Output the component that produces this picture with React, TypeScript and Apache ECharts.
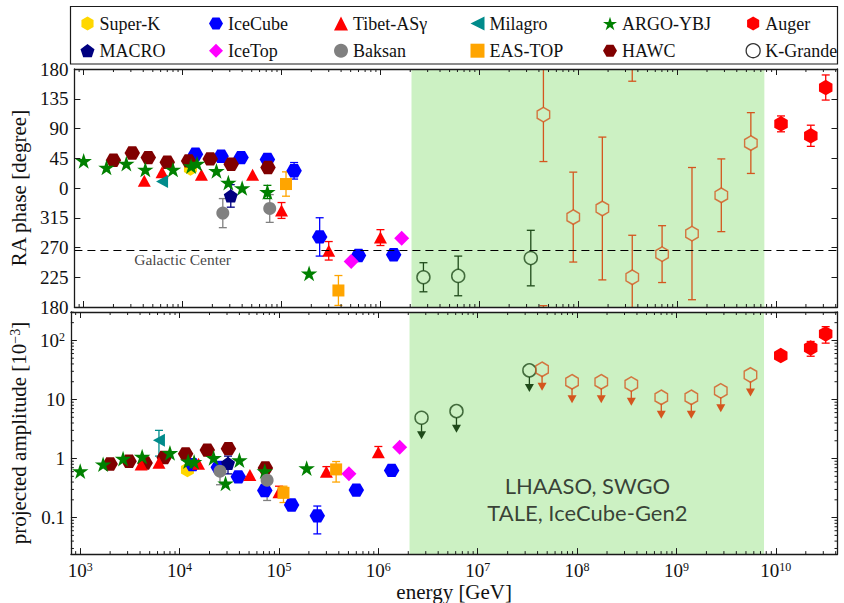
import React, { useEffect, useRef } from 'react';
import * as echarts from 'echarts';

const SERIF = '"Liberation Serif", "DejaVu Serif", serif';
const SANS = 'Lato, "Open Sans", sans-serif';

// ---------- axis extents ----------
const ENERGY_MIN = 806;
const ENERGY_MAX = 4.17e10;
const AMP_MIN = 0.0241;
const AMP_MAX = 303;
const PHASE_MIN = -180;
const PHASE_MAX = 180;
const PHASE_STEP = 45;

// ---------- annotations ----------
const galacticCenterRA = 266.4;
const gcLabelEnergy = 1.0e4;
const bandEnergy = [2.06e6, 7.6e9];
const bandLabelAt = [1.27e8, 0.209];
const bandLabel = 'LHAASO, SWGO\nTALE, IceCube-Gen2';

// ---------- data (energy in GeV, phase in degree, amplitude in 1e-3) ----------
const superkE = [1.2e4];
const superkPhase = [30];
const superkAmp = [0.645];

const macroE = [3.07e4];
const macroPhase = [348];
const macroPhaseErr = [17];
const macroAmp = [0.83];
const macroAmpLo = [0.55];
const macroAmpHi = [1.1];

const icecubeE = [1.35e4, 2.45e4, 3.9e4, 7.2e4, 1.34e5, 2.43e5, 6.0e5, 1.36e6];
const icecubePhase = [51, 48, 46, 43, 26, 286, 258, 259];
const icecubePhaseErr = [0, 0, 0, 0, 12.5, 29, 0, 0];
const icecubeAmp = [0.79, 0.71, 0.49, 0.287, 0.163, 0.107, 0.292, 0.63];
const icecubeAmpLo = [0, 0, 0, 0, 0, 0.053, 0, 0];
const icecubeAmpHi = [0, 0, 0, 0, 0, 0.157, 0, 0];

const icetopE = [5.06e5, 1.64e6];
const icetopPhase = [249, 284];
const icetopAmp = [0.553, 1.55];

const tibetE = [4.1e3, 6.2e3, 1.55e4, 5.1e4, 1.0e5, 3.0e5, 1.0e6];
const tibetPhase = [11, 24, 20, 20, 326, 265, 285];
const tibetPhaseErr = [0, 0, 0, 0, 12, 14, 12];
const tibetAmp = [0.79, 0.85, 0.82, 0.525, 0.27, 0.6, 1.28];
const tibetAmpLo = [0, 0, 0, 0, 0.22, 0.5, 1.1];
const tibetAmpHi = [0, 0, 0, 0, 0.34, 0.73, 1.6];

const baksanE = [2.55e4, 7.6e4];
const baksanPhase = [322, 329];
const baksanPhaseErr = [22, 21];
const baksanAmp = [0.61, 0.43];
const baksanAmpLo = [0.36, 0.195];
const baksanAmpHi = [0.86, 0.6];

const milagroE = [6.2e3];
const milagroPhase = [10];
const milagroAmp = [2.05];
const milagroAmpLo = [1.1];
const milagroAmpHi = [3.0];

const eastopE = [1.11e5, 3.76e5];
const eastopPhase = [6, 205];
const eastopPhaseErr = [18.4, 22.6];
const eastopAmp = [0.263, 0.655];
const eastopAmpLo = [0.18, 0.4];
const eastopAmpHi = [0.34, 0.89];

const argoE = [1.0e3, 1.7e3, 2.7e3, 4.2e3, 8.0e3, 1.22e4, 1.4e4, 2.2e4, 2.9e4, 4.0e4, 7.2e4, 1.9e5];
const argoPhase = [41, 31, 37, 28, 28, 33, 37, 26, 8, 0, 354, 231];
const argoPhaseErr = [0, 0, 0, 0, 0, 0, 0, 0, 0, 0, 10, 0];
const argoAmp = [0.61, 0.8, 1.0, 1.08, 1.25, 0.9, 0.88, 1.03, 0.38, 0.94, 0.61, 0.69];

const hawcE = [2.0e3, 3.1e3, 4.5e3, 7.0e3, 1.15e4, 1.9e4, 3.1e4, 7.3e4];
const hawcPhase = [42, 53, 46, 39, 41, 44, 36, 31];
const hawcAmp = [0.81, 0.9, 0.84, 1.04, 1.2, 1.39, 1.47, 0.69];

const augerE = [1.12e10, 2.24e10, 3.17e10];
const augerPhase = [97, 79, 152];
const augerPhaseErr = [12, 16, 19];
const augerAmp = [55.5, 74.6, 129];
const augerAmpLo = [0, 54, 90];
const augerAmpHi = [0, 96, 171];

const kgrandeE = [2.72e6, 6.11e6, 3.31e7];
const kgrandePhase = [225, 227, 254];
const kgrandePhaseErr = [22, 30, 42];
const kgrandeAmpLimit = [4.9, 6.35, 31.1];

const augerLowE = [4.44e7, 8.89e7, 1.75e8, 3.51e8, 7.03e8, 1.41e9, 2.79e9, 5.55e9];
const augerLowPhase = [111, 316, 329, 225, 260, 291, 349, 68];
const augerLowPhaseErr = [71, 68, 108, 63.5, 43, 100, 55, 46];
const augerLowAmpLimit = [32.4, 19.9, 19.9, 18.2, 10.9, 10.9, 14.0, 26.0];

// ---------- styles ----------
const C = {
  superk: '#ffd700', macro: '#000080', icecube: '#0000ff', icetop: '#ff00ff',
  tibet: '#ff0000', baksan: '#808080', milagro: '#008b8b', eastop: '#ffa500',
  argo: '#008000', hawc: '#800000', auger: '#ff0000', kgrande: '#1f4a1a', augerLow: '#d4561e',
  band: '#ccf1c3', axis: '#1a1a1a',
};
const HEX_P = 'path://M0,-1L0.866,-0.5L0.866,0.5L0,1L-0.866,0.5L-0.866,-0.5Z';
const HEX_F = 'path://M1,0L0.5,0.866L-0.5,0.866L-1,0L-0.5,-0.866L0.5,-0.866Z';
const STAR = 'path://M0,-1L0.2245,-0.309L0.951,-0.309L0.3633,0.118L0.5878,0.809L0,0.382L-0.5878,0.809L-0.3633,0.118L-0.951,-0.309L-0.2245,-0.309Z';
const PENT = 'path://M0,-1L0.951,-0.309L0.588,0.809L-0.588,0.809L-0.951,-0.309Z';
const LTRI = 'path://M-1,0L1,-1L1,1Z';

const wrap = (p: number) => (p > 180 ? p - 360 : p);

function minorValues(lo: number, hi: number) {
  const out: number[] = [];
  for (let n = -3; n <= 11; n++) {
    for (let k = 2; k <= 9; k++) {
      const v = k * Math.pow(10, n);
      if (v > lo && v < hi) out.push(v);
    }
  }
  return out;
}

const axisIdx = (g: number) => (g === 0 ? 0 : 2);

function scatter(E: number[], Y: number[], g: number, symbol: string, size: any, color: string, name?: string, extra: any = {}) {
  return {
    type: 'scatter', name, xAxisIndex: axisIdx(g), yAxisIndex: axisIdx(g),
    data: E.map((e, i) => [e, g === 0 ? wrap(Y[i]) : Y[i]]),
    symbol, symbolSize: size, silent: true, z: 4,
    itemStyle: { color, opacity: 1 },
    ...extra,
  };
}

function errRender(color: string, wrapMode: boolean, gap: number) {
  return (params: any, api: any) => {
    const x = api.value(0), lo = api.value(1), hi = api.value(2), c = api.value(3);
    const Y = (v: number) => api.coord([x, v])[1];
    const px = api.coord([x, c])[0];
    const yc = Y(c);
    const ch: any[] = [];
    const st = { stroke: color, lineWidth: 1.3 };
    const seg = (a: number, b: number) => ch.push({ type: 'line', shape: { x1: px, y1: a, x2: px, y2: b }, style: st });
    const cap = (y: number) => ch.push({ type: 'line', shape: { x1: px - 4, y1: y, x2: px + 4, y2: y }, style: st });
    if (wrapMode && hi > PHASE_MAX) {
      seg(yc - gap, Y(PHASE_MAX)); seg(Y(PHASE_MIN), Y(hi - 360)); cap(Y(hi - 360));
    } else {
      if (yc - gap > Y(hi)) seg(yc - gap, Y(hi));
      cap(Y(hi));
    }
    if (wrapMode && lo < PHASE_MIN) {
      seg(yc + gap, Y(PHASE_MIN)); seg(Y(PHASE_MAX), Y(lo + 360)); cap(Y(lo + 360));
    } else {
      if (yc + gap < Y(lo)) seg(yc + gap, Y(lo));
      cap(Y(lo));
    }
    return { type: 'group', children: ch };
  };
}

function phaseErr(E: number[], P: number[], err: number[], color: string, gap = 0) {
  const data: number[][] = [];
  E.forEach((e, i) => {
    if (err[i]) { const c = wrap(P[i]); data.push([e, c - err[i], c + err[i], c]); }
  });
  return { type: 'custom', xAxisIndex: 0, yAxisIndex: 0, data, renderItem: errRender(color, true, gap), silent: true, z: 3 };
}

function ampErr(E: number[], A: number[], lo: number[], hi: number[], color: string) {
  const data: number[][] = [];
  E.forEach((e, i) => { if (lo[i] && hi[i]) data.push([e, lo[i], hi[i], A[i]]); });
  return { type: 'custom', xAxisIndex: 2, yAxisIndex: 2, data, renderItem: errRender(color, false, 0), silent: true, z: 3 };
}

function limitArrows(E: number[], A: number[], color: string) {
  return {
    type: 'custom', xAxisIndex: 2, yAxisIndex: 2, silent: true, z: 3,
    data: E.map((e, i) => [e, A[i]]),
    renderItem: (params: any, api: any) => {
      const p = api.coord([api.value(0), api.value(1)]);
      return {
        type: 'group', children: [
          { type: 'line', shape: { x1: p[0], y1: p[1] + 6.5, x2: p[0], y2: p[1] + 14 }, style: { stroke: color, lineWidth: 1.3 } },
          { type: 'polygon', shape: { points: [[p[0] - 4.5, p[1] + 13.5], [p[0] + 4.5, p[1] + 13.5], [p[0], p[1] + 21.5]] }, style: { fill: color } },
        ],
      };
    },
  };
}

function xMinorTicks(g: number, yRef: number) {
  return {
    type: 'custom', xAxisIndex: axisIdx(g), yAxisIndex: axisIdx(g), silent: true, z: 6,
    data: minorValues(ENERGY_MIN, ENERGY_MAX).map((v) => [v, yRef]),
    renderItem: (params: any, api: any) => {
      const cs = params.coordSys;
      const px = api.coord([api.value(0), api.value(1)])[0];
      const st = { stroke: C.axis, lineWidth: 1 };
      return {
        type: 'group', children: [
          { type: 'line', shape: { x1: px, y1: cs.y, x2: px, y2: cs.y + 3 }, style: st },
          { type: 'line', shape: { x1: px, y1: cs.y + cs.height, x2: px, y2: cs.y + cs.height - 3 }, style: st },
        ],
      };
    },
  };
}

function yMinorTicks() {
  return {
    type: 'custom', xAxisIndex: 2, yAxisIndex: 2, silent: true, z: 6,
    data: minorValues(AMP_MIN, AMP_MAX).map((v) => [1e4, v]),
    renderItem: (params: any, api: any) => {
      const cs = params.coordSys;
      const py = api.coord([api.value(0), api.value(1)])[1];
      const st = { stroke: C.axis, lineWidth: 1 };
      return {
        type: 'group', children: [
          { type: 'line', shape: { x1: cs.x, y1: py, x2: cs.x + 3, y2: py }, style: st },
          { type: 'line', shape: { x1: cs.x + cs.width, y1: py, x2: cs.x + cs.width - 3, y2: py }, style: st },
        ],
      };
    },
  };
}

const supRich = { sup: { fontSize: 12, fontFamily: SERIF, color: '#111', verticalAlign: 'top', lineHeight: 12 } };

const energyLabel = (v: number) => `10{sup|${Math.round(Math.log10(v))}}`;
const ampLabel = (v: number) => {
  const n = Math.round(Math.log10(v));
  if (n >= 2) return `10{sup|${n}}`;
  return String(Math.pow(10, n));
};
const phaseLabel = (v: number) => String(v < 0 ? v + 360 : v);

export default function App() {
  const ref = useRef<HTMLDivElement>(null);
  useEffect(() => {
    const chart = echarts.init(ref.current!, null, { renderer: 'svg' });
    const axisLine = { show: true, onZero: false, lineStyle: { color: C.axis, width: 1.3 } };
    const tick = { show: true, inside: true, length: 6, lineStyle: { color: C.axis, width: 1 } };
    const xBase: any = {
      type: 'log', logBase: 10, min: ENERGY_MIN, max: ENERGY_MAX, z: 10,
      axisLine, axisTick: tick, axisLabel: { show: false }, splitLine: { show: false },
    };
    const labelStyle = { fontFamily: SERIF, fontSize: 19, color: '#111' };

    const legendCols = [
      [{ name: 'Super-K', icon: HEX_P, itemStyle: { color: C.superk } }, { name: 'MACRO', icon: PENT, itemStyle: { color: C.macro } }],
      [{ name: 'IceCube', icon: HEX_F, itemStyle: { color: C.icecube } }, { name: 'IceTop', icon: 'diamond', itemStyle: { color: C.icetop } }],
      [{ name: 'Tibet-ASγ', icon: 'triangle', itemStyle: { color: C.tibet } }, { name: 'Baksan', icon: 'circle', itemStyle: { color: C.baksan } }],
      [{ name: 'Milagro', icon: LTRI, itemStyle: { color: C.milagro } }, { name: 'EAS-TOP', icon: 'rect', itemStyle: { color: C.eastop } }],
      [{ name: 'ARGO-YBJ', icon: STAR, itemStyle: { color: C.argo } }, { name: 'HAWC', icon: HEX_F, itemStyle: { color: C.hawc } }],
      [{ name: 'Auger', icon: HEX_P, itemStyle: { color: C.auger } }, { name: 'K-Grande', icon: 'circle', itemStyle: { color: '#ffffff', borderColor: '#000', borderWidth: 1.3 } }],
    ];
    const legendLeft = [80.5, 209, 334, 470.5, 603, 745.5];

    const hollow = (color: string) => ({ color: 'rgba(0,0,0,0)', borderColor: color, borderWidth: 1.5 });

    const option: any = {
      animation: false,
      textStyle: { fontFamily: SERIF },
      graphic: [{ type: 'rect', shape: { x: 70.5, y: 6.5, width: 767, height: 57.5 }, style: { fill: 'none', stroke: C.axis, lineWidth: 1.2 }, silent: true }],
      legend: legendCols.map((d, i) => ({
        left: legendLeft[i], top: 14.5, padding: 0, orient: 'vertical', itemWidth: 14, itemHeight: 14, itemGap: 9.2,
        selectedMode: false, textStyle: { fontFamily: SERIF, fontSize: 18, lineHeight: 14, color: '#111' }, data: d,
      })),
      grid: [
        { left: 70, right: 6.5, top: 69, height: 238 },
        { left: 70, right: 6.5, top: 312, height: 245 },
      ],
      xAxis: [
        { ...xBase, gridIndex: 0, position: 'bottom' },
        { ...xBase, gridIndex: 0, position: 'top' },
        {
          ...xBase, gridIndex: 1, position: 'bottom',
          axisLabel: { show: true, showMinLabel: false, showMaxLabel: false, margin: 7, formatter: energyLabel, ...labelStyle, rich: supRich },
          name: 'energy [GeV]', nameLocation: 'middle', nameGap: 26, nameTextStyle: { fontFamily: SERIF, fontSize: 21, color: '#111' },
        },
        { ...xBase, gridIndex: 1, position: 'top' },
      ],
      yAxis: [
        {
          type: 'value', gridIndex: 0, position: 'left', min: PHASE_MIN, max: PHASE_MAX, interval: PHASE_STEP, z: 10,
          axisLine, axisTick: tick, splitLine: { show: false },
          axisLabel: { formatter: phaseLabel, margin: 6, ...labelStyle },
          name: 'RA phase [degree]', nameLocation: 'middle', nameGap: 40, nameRotate: 90,
          nameTextStyle: { fontFamily: SERIF, fontSize: 21, color: '#111' },
        },
        {
          type: 'value', gridIndex: 0, position: 'right', min: PHASE_MIN, max: PHASE_MAX, interval: PHASE_STEP, z: 10,
          axisLine, axisTick: tick, splitLine: { show: false }, axisLabel: { show: false },
        },
        {
          type: 'log', logBase: 10, gridIndex: 1, position: 'left', min: AMP_MIN, max: AMP_MAX, z: 10,
          axisLine, axisTick: tick, splitLine: { show: false },
          axisLabel: { formatter: ampLabel, margin: 6, showMinLabel: false, showMaxLabel: false, ...labelStyle, rich: supRich },
          name: 'projected amplitude [10{sup|−3}]', nameLocation: 'middle', nameGap: 40, nameRotate: 90,
          nameTextStyle: { fontFamily: SERIF, fontSize: 21, color: '#111', rich: { sup: { fontSize: 14, fontFamily: SERIF, color: '#111', verticalAlign: 'top', lineHeight: 12 } } },
        },
        {
          type: 'log', logBase: 10, gridIndex: 1, position: 'right', min: AMP_MIN, max: AMP_MAX, z: 10,
          axisLine, axisTick: tick, splitLine: { show: false }, axisLabel: { show: false },
        },
      ],
      series: [
        {
          type: 'scatter', xAxisIndex: 0, yAxisIndex: 0, data: [], silent: true,
          markArea: { silent: true, itemStyle: { color: C.band }, data: [[{ xAxis: bandEnergy[0] }, { xAxis: bandEnergy[1] }]] },
          markLine: {
            silent: true, symbol: 'none', label: { show: false },
            lineStyle: { color: '#000', width: 1.2, type: [8, 5] },
            data: [{ yAxis: wrap(galacticCenterRA) }],
          },
        },
        {
          type: 'scatter', xAxisIndex: 2, yAxisIndex: 2, data: [], silent: true,
          markArea: { silent: true, itemStyle: { color: C.band }, data: [[{ xAxis: bandEnergy[0] }, { xAxis: bandEnergy[1] }]] },
        },
        xMinorTicks(0, 0),
        xMinorTicks(1, 1),
        yMinorTicks(),

        // error bars, top panel
        phaseErr(icecubeE, icecubePhase, icecubePhaseErr, C.icecube),
        phaseErr(tibetE, tibetPhase, tibetPhaseErr, C.tibet),
        phaseErr(macroE, macroPhase, macroPhaseErr, C.macro),
        phaseErr(baksanE, baksanPhase, baksanPhaseErr, C.baksan),
        phaseErr(eastopE, eastopPhase, eastopPhaseErr, C.eastop),
        phaseErr(argoE, argoPhase, argoPhaseErr, C.argo),
        phaseErr(augerE, augerPhase, augerPhaseErr, C.auger),
        phaseErr(kgrandeE, kgrandePhase, kgrandePhaseErr, C.kgrande, 6.5),
        phaseErr(augerLowE, augerLowPhase, augerLowPhaseErr, C.augerLow, 7),
        // error bars, bottom panel
        ampErr(icecubeE, icecubeAmp, icecubeAmpLo, icecubeAmpHi, C.icecube),
        ampErr(tibetE, tibetAmp, tibetAmpLo, tibetAmpHi, C.tibet),
        ampErr(macroE, macroAmp, macroAmpLo, macroAmpHi, C.macro),
        ampErr(baksanE, baksanAmp, baksanAmpLo, baksanAmpHi, C.baksan),
        ampErr(milagroE, milagroAmp, milagroAmpLo, milagroAmpHi, C.milagro),
        ampErr(eastopE, eastopAmp, eastopAmpLo, eastopAmpHi, C.eastop),
        ampErr(augerE, augerAmp, augerAmpLo, augerAmpHi, C.auger),
        limitArrows(kgrandeE, kgrandeAmpLimit, C.kgrande),
        limitArrows(augerLowE, augerLowAmpLimit, C.augerLow),

        // markers
        ...[0, 1].flatMap((g) => [
          scatter(superkE, g === 0 ? superkPhase : superkAmp, g, HEX_P, [13, 15], C.superk, 'Super-K'),
          scatter(icecubeE, g === 0 ? icecubePhase : icecubeAmp, g, HEX_F, [15.5, 13.4], C.icecube, 'IceCube'),
          scatter(hawcE, g === 0 ? hawcPhase : hawcAmp, g, HEX_F, [15.5, 13.4], C.hawc, 'HAWC'),
          scatter(tibetE, g === 0 ? tibetPhase : tibetAmp, g, 'triangle', [13, 12], C.tibet, 'Tibet-ASγ'),
          scatter(argoE, g === 0 ? argoPhase : argoAmp, g, STAR, [16.5, 15.7], C.argo, 'ARGO-YBJ'),
          scatter(milagroE, g === 0 ? milagroPhase : milagroAmp, g, LTRI, [12, 13], C.milagro, 'Milagro'),
          scatter(macroE, g === 0 ? macroPhase : macroAmp, g, PENT, [14, 13.3], C.macro, 'MACRO'),
          scatter(baksanE, g === 0 ? baksanPhase : baksanAmp, g, 'circle', 13, C.baksan, 'Baksan'),
          scatter(eastopE, g === 0 ? eastopPhase : eastopAmp, g, 'rect', 12, C.eastop, 'EAS-TOP'),
          scatter(icetopE, g === 0 ? icetopPhase : icetopAmp, g, 'diamond', 15, C.icetop, 'IceTop'),
          scatter(augerE, g === 0 ? augerPhase : augerAmp, g, HEX_P, [13.5, 15.5], C.auger, 'Auger'),
        ]),
        scatter(kgrandeE, kgrandePhase, 0, 'circle', 13, C.kgrande, 'K-Grande', { itemStyle: hollow(C.kgrande) }),
        scatter(kgrandeE, kgrandeAmpLimit, 1, 'circle', 13, C.kgrande, 'K-Grande', { itemStyle: hollow(C.kgrande) }),
        scatter(augerLowE, augerLowPhase, 0, HEX_P, [12.5, 14.5], C.augerLow, undefined, { itemStyle: hollow(C.augerLow) }),
        scatter(augerLowE, augerLowAmpLimit, 1, HEX_P, [12.5, 14.5], C.augerLow, undefined, { itemStyle: hollow(C.augerLow) }),

        // text annotations
        {
          type: 'scatter', xAxisIndex: 0, yAxisIndex: 0, silent: true, symbolSize: 0, z: 7,
          data: [[gcLabelEnergy, wrap(galacticCenterRA)]],
          label: { show: true, position: 'bottom', distance: 2, formatter: 'Galactic Center', fontFamily: SERIF, fontSize: 15.5, color: '#111' },
        },
        {
          type: 'scatter', xAxisIndex: 2, yAxisIndex: 2, silent: true, symbolSize: 0, z: 7,
          data: [bandLabelAt],
          label: { show: true, position: 'inside', formatter: bandLabel, fontFamily: SANS, fontSize: 22, lineHeight: 27, color: '#111', align: 'center' },
        },
      ],
    };
    chart.setOption(option);
    return () => chart.dispose();
  }, []);
  return <div ref={ref} style={{ position: 'absolute', left: 0, top: 0, width: 844, height: 603 }} />;
}
